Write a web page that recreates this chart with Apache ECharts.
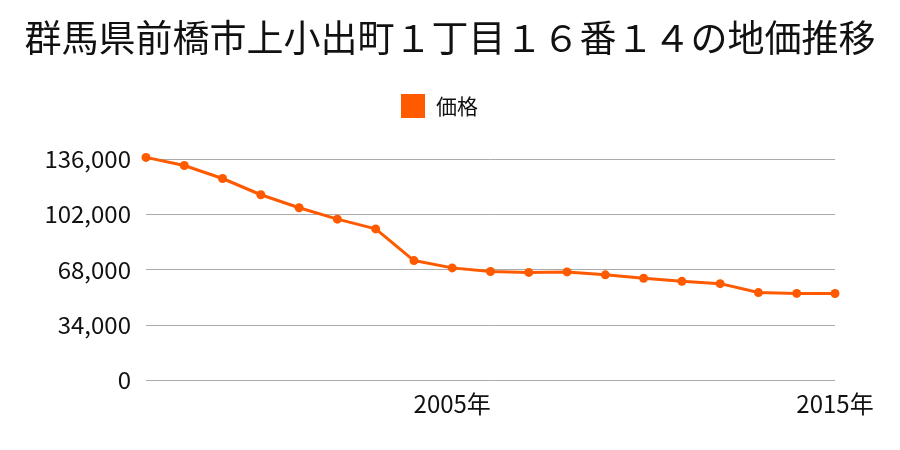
<!DOCTYPE html>
<html><head><meta charset="utf-8">
<script src="https://cdn.jsdelivr.net/npm/echarts@6/dist/echarts.min.js"></script>
<style>html,body{margin:0;padding:0;background:#fff}#c{width:900px;height:450px}</style>
</head><body><div id="c"></div>
<script>
const titleText = "群馬県前橋市上小出町１丁目１６番１４の地価推移";
const seriesName = "価格";
const years = ["1997","1998","1999","2000","2001","2002","2003","2004","2005","2006","2007","2008","2009","2010","2011","2012","2013","2014","2015"];
const prices = [137000,132000,124000,114000,106000,99000,93000,73500,69000,66800,66200,66500,64700,62600,60700,59300,53800,53300,53200];
const yTicks = [0,34000,68000,102000,136000];
const shownYears = ["2005","2015"];

const chart = echarts.init(document.getElementById('c'));
chart.setOption({
  animation:false,
  textStyle:{fontFamily:'"Noto Sans CJK JP", "Noto Sans", sans-serif'},
  title:{text:titleText,left:'center',top:14,textStyle:{fontSize:37,fontWeight:'normal',color:'#111',fontFamily:'"Noto Sans CJK JP", sans-serif'}},
  legend:{data:[seriesName],top:89,left:396,icon:'rect',itemWidth:24,itemHeight:24,itemGap:10,
    textStyle:{fontSize:21,color:'#111',padding:[0,0,0,6]}},
  grid:{left:146,right:65,top:159,bottom:70,containLabel:false},
  xAxis:{type:'category',data:years,boundaryGap:false,
    axisLine:{show:false},axisTick:{show:false},splitLine:{show:false},
    axisLabel:{interval:0,fontSize:24,color:'#111',margin:12,
      formatter:function(v){return shownYears.indexOf(v)>=0? v+'年':'';}}},
  yAxis:{type:'value',min:yTicks[0],max:yTicks[yTicks.length-1],interval:34000,
    axisLine:{show:false},axisTick:{show:false},
    splitLine:{lineStyle:{color:'#aaa',width:1}},
    axisLabel:{fontSize:24,color:'#111',margin:15,
      formatter:function(v){return v.toLocaleString('en-US');}}},
  series:[{name:seriesName,type:'line',data:prices,color:'#ff5a00',
    symbol:'circle',symbolSize:9,lineStyle:{width:3,color:'#ff5a00'},itemStyle:{color:'#ff5a00'},clip:false}]
});
</script></body></html>
